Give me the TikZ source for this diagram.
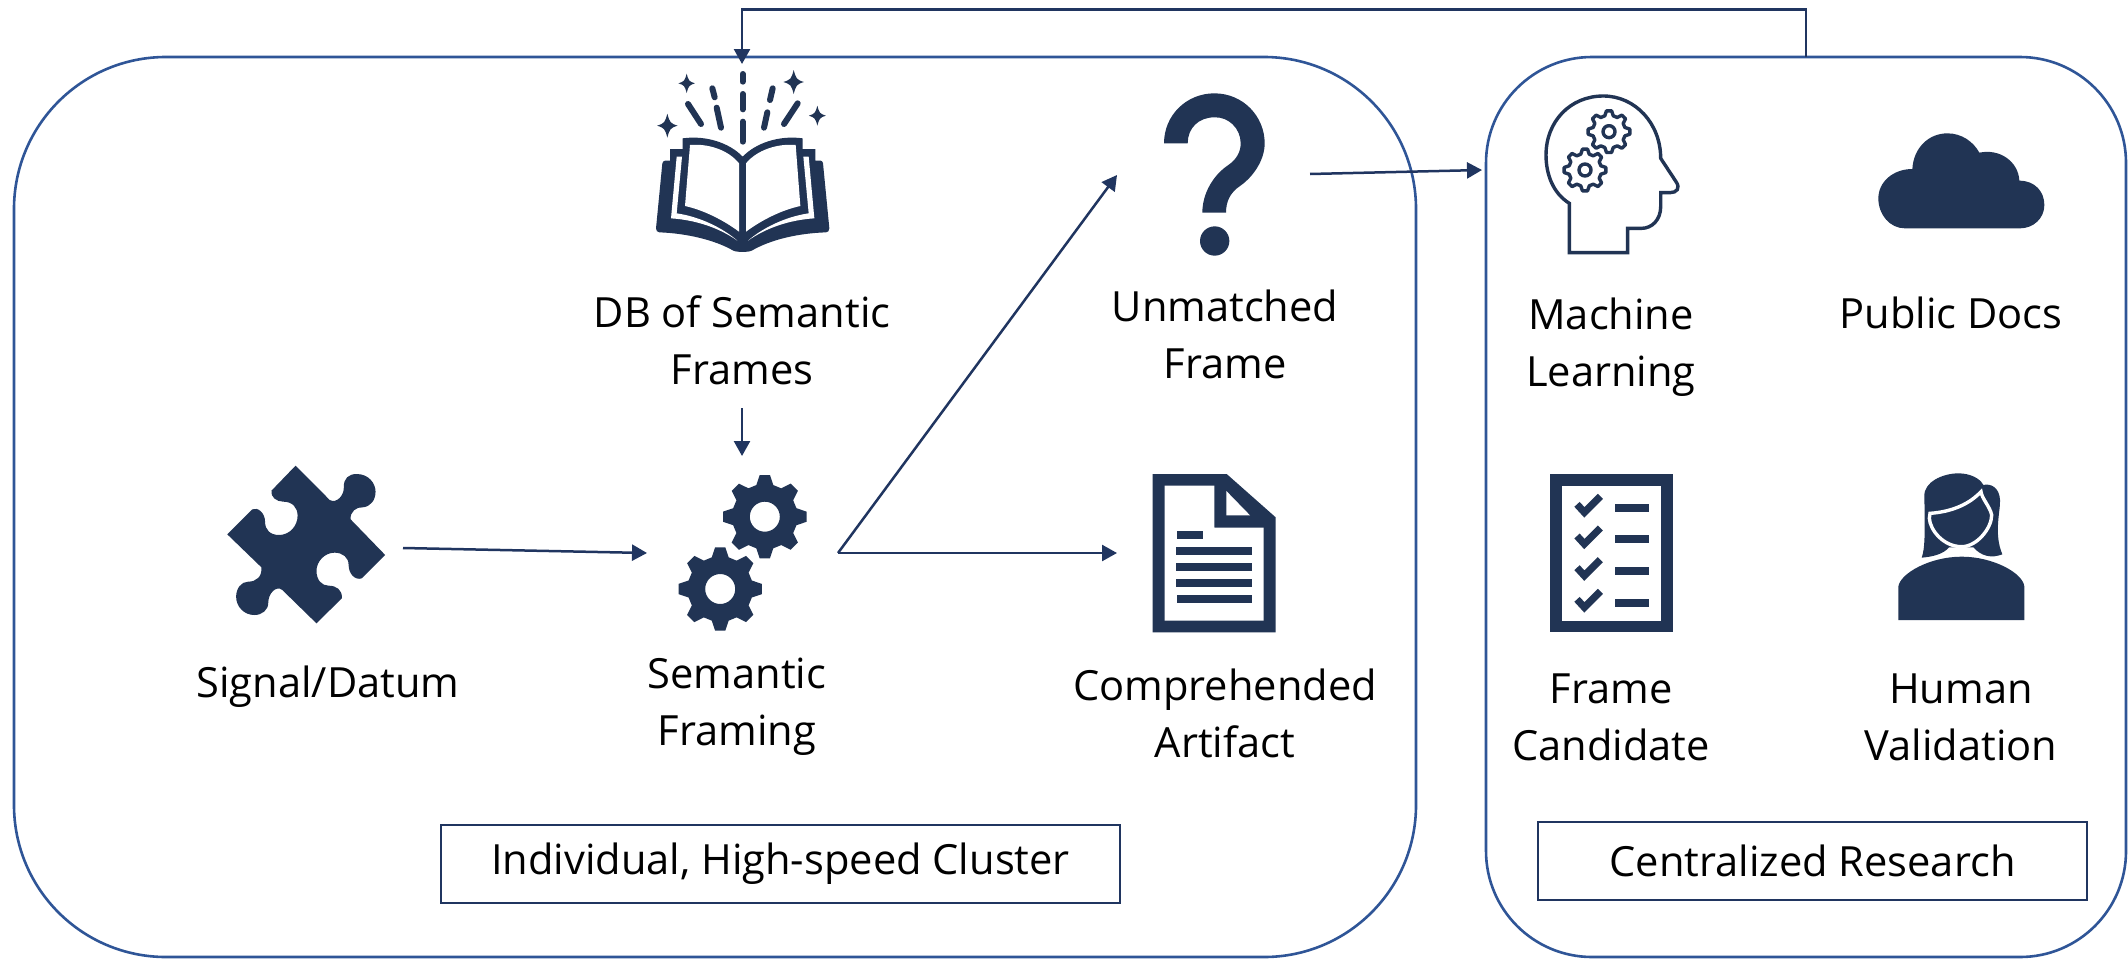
\documentclass[tikz,border=0pt]{standalone}
\usepackage{fontspec}
\setmainfont{Open Sans}
\usetikzlibrary{arrows.meta}
\definecolor{navy}{HTML}{213454}
\definecolor{linknavy}{HTML}{203560}
\definecolor{frameblue}{HTML}{2F5597}
\tikzset{
  zoomed/.style={x=0.16667pt,y=-0.16667pt},
  flow/.style={draw=linknavy,line width=1.25pt,-{Triangle[length=7.5pt,width=8pt]}},
  regionbox/.style={draw=frameblue,line width=1.3pt,inner sep=0pt},
  tagbox/.style={draw=linknavy,line width=1pt,inner sep=0pt,font=\fontsize{20.8}{28.5}\selectfont},
  caption/.style={align=center,inner sep=0pt,text=black,font=\fontsize{20.8}{28.5}\selectfont},
  spark/.style={draw=navy,line width=3pt,line cap=round}
}
\newcommand{\sparkle}[3]{\fill[navy] (#1,#2-#3) .. controls (#1+0.2*#3,#2-0.25*#3) and (#1+0.25*#3,#2-0.2*#3) .. (#1+0.85*#3,#2) .. controls (#1+0.25*#3,#2+0.2*#3) and (#1+0.2*#3,#2+0.25*#3) .. (#1,#2+#3) .. controls (#1-0.2*#3,#2+0.25*#3) and (#1-0.25*#3,#2+0.2*#3) .. (#1-0.85*#3,#2) .. controls (#1-0.25*#3,#2-0.2*#3) and (#1-0.2*#3,#2-0.25*#3) .. cycle;}
\newcommand{\gearshape}[4]{plot[samples at={-7,7,15,30,38,52,60,75,83,97,105,120,128,142,150,165,173,187,195,210,218,232,240,255,263,277,285,300,308,322,330,345}] ({#1+#3*gearr(\x)*sin(\x)},{#2-#4*gearr(\x)*cos(\x)}) -- cycle}
\begin{document}
\begin{tikzpicture}[x=0.5pt,y=-0.5pt,
  declare function={gearr(\t)=(mod(\t+720,45)<9||mod(\t+720,45)>36)?1:0.78;}]
\useasboundingbox (0,0) rectangle (2128,958);
\fill[white] (0,0) rectangle (2128,958);

% region frames
\node[regionbox,rounded corners=76pt,minimum width=701pt,minimum height=450pt] (cluster) at (715,507) {};
\node[regionbox,rounded corners=53pt,minimum width=320pt,minimum height=450pt] (research) at (1806,507) {};

% tag boxes
\node[tagbox,minimum width=339.5pt,minimum height=39pt] (clustertag) at (780.5,864) {Individual, High-speed Cluster};
\node[tagbox,minimum width=274.5pt,minimum height=39pt] (researchtag) at (1812.5,860.5) {Centralized Research};

% captions
\node[caption] (dblabel) at (742,340) {DB of Semantic\\Frames};
\node[caption] (signallabel) at (328,687) {Signal/Datum};
\node[caption] (framinglabel) at (737,707) {Semantic\\Framing};
\node[caption] (unmatchedlabel) at (1225,334) {Unmatched\\Frame};
\node[caption] (artifactlabel) at (1225,713) {Comprehended\\Artifact};
\node[caption] (mllabel) at (1611,347) {Machine\\Learning};
\node[caption] (docslabel) at (1951,313) {Public Docs};
\node[caption] (candidatelabel) at (1611,717) {Frame\\Candidate};
\node[caption] (humanlabel) at (1961,717) {Human\\Validation};

% book
\begin{scope}[shift={(620,50)},zoomed]
\fill[navy] (135,332) -- (150,332) -- (150,297) -- (188,297) -- (188,265) .. controls (260,255) and (330,280) .. (368,320) .. controls (406,280) and (476,255) .. (548,265) -- (548,297) -- (586,297) -- (586,332) -- (602,332) .. controls (606,332) and (608,336) .. (609,340) -- (628,535) .. controls (628,542) and (624,547) .. (618,547) .. controls (530,550) and (450,570) .. (395,602) .. controls (385,607) and (350,607) .. (340,602) .. controls (285,570) and (200,550) .. (118,547) .. controls (112,547) and (108,542) .. (108,535) -- (127,340) .. controls (128,336) and (131,332) .. (135,332) -- cycle;
\fill[white] (170,320) -- (186,320) -- (170,490) .. controls (240,500) and (310,535) .. (352,572) .. controls (300,535) and (230,510) .. (153,505) -- cycle;
\fill[white] (566,320) -- (550,320) -- (566,490) .. controls (496,500) and (426,535) .. (384,572) .. controls (436,535) and (506,510) .. (583,505) -- cycle;
\fill[white] (210,285) .. controls (265,280) and (325,300) .. (357,340) -- (357,545) .. controls (310,510) and (250,480) .. (195,468) -- cycle;
\fill[white] (527,285) .. controls (472,280) and (411,300) .. (378,340) -- (378,545) .. controls (425,510) and (485,480) .. (541,468) -- cycle;
\draw[spark] (368,72) -- (368,95);
\draw[spark] (368,132) -- (368,178);
\draw[spark] (368,215) -- (368,275);
\draw[spark] (277,115) -- (284,142);
\draw[spark] (290,173) -- (303,233);
\draw[spark] (204,162) -- (243,222);
\draw[spark] (458,115) -- (450,150);
\draw[spark] (442,187) -- (432,233);
\draw[spark] (533,160) -- (492,222);
\sparkle{200}{100}{29}
\sparkle{142}{227}{36}
\sparkle{521}{96}{36}
\sparkle{592}{197}{30}
\end{scope}

% puzzle piece (crop drawn 2.489 times wide, 3 times high)
\begin{scope}[shift={(210,450)},x=0.2009pt,y=-0.16667pt]
\fill[navy] (213,47) -- (298,150) .. controls (315,162) and (335,135) .. (333,110) .. controls (333,85) and (345,72) .. (365,72) .. controls (395,72) and (412,100) .. (412,125) .. controls (412,150) and (400,170) .. (380,172) .. controls (365,170) and (348,185) .. (350,208) -- (436,315) -- (378,385) .. controls (360,392) and (345,370) .. (345,345) .. controls (345,322) and (330,308) .. (310,308) .. controls (285,308) and (265,335) .. (265,362) .. controls (265,390) and (278,407) .. (295,407) .. controls (315,407) and (330,420) .. (328,445) -- (265,520) -- (180,420) .. controls (165,405) and (145,430) .. (145,458) .. controls (145,480) and (130,495) .. (110,495) .. controls (85,495) and (65,470) .. (65,440) .. controls (65,415) and (78,395) .. (95,395) .. controls (115,395) and (130,380) .. (128,352) -- (43,253) -- (105,178) .. controls (120,170) and (137,190) .. (137,215) .. controls (137,240) and (150,255) .. (172,255) .. controls (198,255) and (218,228) .. (218,197) .. controls (218,172) and (205,155) .. (182,155) .. controls (165,155) and (150,140) .. (153,122) -- cycle;
\end{scope}

% two gears
\fill[navy,even odd rule] \gearshape{764.8}{516.7}{42}{42} (764.8,516.7) circle[radius=15];
\fill[navy,even odd rule] \gearshape{720.2}{589}{42}{42} (720.2,589) circle[radius=15];

% question mark
\begin{scope}[shift={(1130,80)},zoomed]
\fill[navy] (102,190) .. controls (102,105) and (170,40) .. (253,40) .. controls (340,40) and (404,110) .. (404,190) .. controls (404,240) and (370,290) .. (330,318) .. controls (300,338) and (288,365) .. (288,398) -- (217,398) .. controls (217,340) and (250,285) .. (295,255) .. controls (320,238) and (332,215) .. (332,190) .. controls (332,145) and (295,110) .. (253,112) .. controls (205,112) and (173,145) .. (173,190) -- cycle;
\fill[navy] (254,483) circle[radius=44];
\end{scope}

% document
\begin{scope}[shift={(1130,460)},zoomed]
\fill[navy] (68,42) -- (290,42) -- (437,172) -- (437,517) -- (68,517) -- cycle;
\fill[white] (104,77) -- (253,77) -- (253,203) -- (401,203) -- (401,482) -- (104,482) -- cycle;
\fill[white] (289,93) -- (360,166) -- (289,166) -- cycle;
\fill[navy] (141,213) rectangle (219,237);
\fill[navy] (138,261) rectangle (366,285);
\fill[navy] (138,309) rectangle (366,333);
\fill[navy] (138,357) rectangle (366,381);
\fill[navy] (140,405) rectangle (366,428);
\end{scope}

% head with gears
\begin{scope}[shift={(1520,100)},zoomed]
\draw[navy,line width=1.7pt,line join=miter] (148,458) -- (148,310) .. controls (100,280) and (78,225) .. (78,165) .. controls (78,65) and (150,-12) .. (250,-12) .. controls (345,-12) and (422,70) .. (422,175) -- (468,245) .. controls (482,265) and (470,278) .. (450,278) -- (422,278) -- (422,320) .. controls (422,360) and (395,385) .. (365,385) -- (323,385) -- (323,458) -- cycle;
\draw[navy,line width=1.7pt,line join=round] \gearshape{267}{95}{63}{63} (267,95) circle[radius=18];
\draw[navy,line width=1.7pt,line join=round] \gearshape{195}{210}{63}{63} (195,210) circle[radius=18];
\end{scope}

% cloud
\begin{scope}[shift={(1860,120)},zoomed]
\fill[navy] (135,325) .. controls (90,325) and (55,285) .. (55,235) .. controls (55,185) and (100,147) .. (157,147) .. controls (160,85) and (205,40) .. (262,40) .. controls (305,40) and (340,65) .. (358,98) .. controls (420,85) and (475,125) .. (478,182) .. controls (525,182) and (553,215) .. (553,255) .. controls (553,295) and (520,325) .. (480,325) -- cycle;
\end{scope}

% checklist
\begin{scope}[shift={(1530,460)},zoomed]
\fill[navy] (60,42) rectangle (428,517);
\fill[white] (96,77) rectangle (392,482);
\foreach \rowy/\checky in {132/0,225/95,321/190,417/285}{
  \fill[navy] (255,\rowy) rectangle (357,\rowy+24);
  \draw[navy,line width=3.6pt] (141,133+\checky) -- (163,157+\checky) -- (211,109+\checky);
}
\end{scope}

% person
\begin{scope}[shift={(1880,460)},zoomed]
\fill[navy] (125,293) .. controls (135,265) and (135,220) .. (133,110) .. controls (130,65) and (190,40) .. (235,40) .. controls (270,40) and (300,55) .. (310,75) .. controls (330,70) and (358,80) .. (360,120) .. controls (362,150) and (340,220) .. (367,283) .. controls (335,295) and (305,290) .. (280,262) -- (207,262) .. controls (190,282) and (160,290) .. (125,293) -- cycle;
\fill[navy,draw=white,line width=1.7pt] (150,160) .. controls (220,155) and (270,130) .. (303,95) .. controls (305,115) and (330,140) .. (335,165) .. controls (335,205) and (290,260) .. (245,260) .. controls (190,260) and (150,210) .. (148,175) -- cycle;
\fill[navy] (55,480) -- (55,380) .. controls (60,340) and (150,290) .. (245,290) .. controls (340,290) and (430,340) .. (433,380) -- (433,480) -- cycle;
\end{scope}

% connector end points
\coordinate (loopstart) at (1806,57);
\coordinate (loopright) at (1806,9.5);
\coordinate (loopleft) at (742,9.5);
\coordinate (dbtop) at (742,64);
\coordinate (dbout) at (742,408);
\coordinate (gearsin) at (742,456);
\coordinate (puzzleout) at (403,548);
\coordinate (gearsleft) at (647,553);
\coordinate (gearsout) at (838,553);
\coordinate (unmatchedin) at (1117,175);
\coordinate (artifactin) at (1117,553);
\coordinate (questionout) at (1310,174);
\coordinate (mlin) at (1482,170);

% connectors
\draw[flow] (loopstart) -- (loopright) -- (loopleft) -- (dbtop);
\draw[flow] (dbout) -- (gearsin);
\draw[flow] (puzzleout) -- (gearsleft);
\draw[flow] (gearsout) -- (unmatchedin);
\draw[flow] (gearsout) -- (artifactin);
\draw[flow] (questionout) -- (mlin);
\end{tikzpicture}
\end{document}
